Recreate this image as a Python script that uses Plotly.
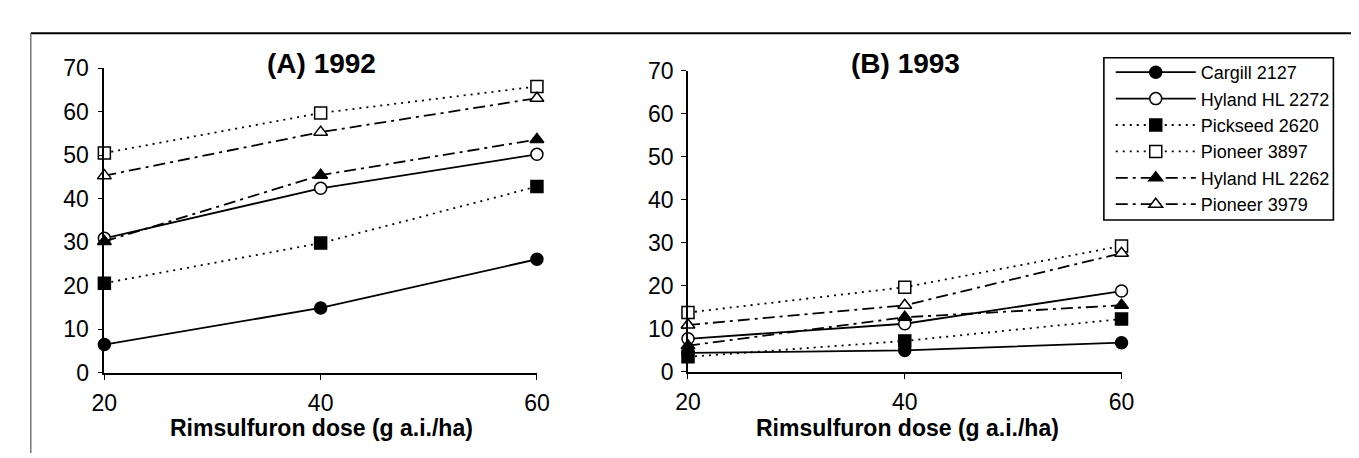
import plotly.graph_objects as go

doses = [20, 40, 60]
names = ["Cargill 2127", "Hyland HL 2272", "Pickseed 2620", "Pioneer 3897", "Hyland HL 2262", "Pioneer 3979"]

# Panel A (1992)
a_cargill = [6.5, 14.9, 26.1]
a_hl2272 = [30.9, 42.4, 50.2]
a_pickseed = [20.6, 29.8, 42.8]
a_p3897 = [50.5, 59.7, 65.8]
a_hl2262 = [30.2, 45.4, 53.6]
a_p3979 = [45.3, 55.3, 63.1]

# Panel B (1993)
b_cargill = [4.4, 5.0, 6.8]
b_hl2272 = [7.7, 11.2, 18.8]
b_pickseed = [3.5, 7.2, 12.3]
b_p3897 = [13.8, 19.7, 29.3]
b_hl2262 = [6.1, 12.7, 15.5]
b_p3979 = [10.9, 15.5, 27.6]

styles = [
    dict(dash="solid", symbol="circle", fill="black"),
    dict(dash="solid", symbol="circle", fill="white"),
    dict(dash="2px,5px", symbol="square", fill="black"),
    dict(dash="2px,5px", symbol="square", fill="white"),
    dict(dash="12px,5px,3px,5px", symbol="triangle-up", fill="black"),
    dict(dash="12px,5px,3px,5px", symbol="triangle-up", fill="white"),
]

FONT = "Arial, Liberation Sans, sans-serif"

fig = go.Figure()
panels = [
    ("x", "y", [a_cargill, a_hl2272, a_pickseed, a_p3897, a_hl2262, a_p3979], False),
    ("x2", "y2", [b_cargill, b_hl2272, b_pickseed, b_p3897, b_hl2262, b_p3979], True),
]
for xa, ya, series, show in panels:
    for name, vals, st in zip(names, series, styles):
        fig.add_trace(go.Scatter(
            x=doses, y=vals, name=name, xaxis=xa, yaxis=ya, showlegend=show,
            mode="lines+markers", cliponaxis=False,
            line=dict(color="black", width=1.8, dash=st["dash"]),
            marker=dict(symbol=st["symbol"], size=12, color=st["fill"],
                        line=dict(color="black", width=1.5)),
        ))

font_tick = dict(family=FONT, size=23, color="black")
ax_common = dict(showgrid=False, zeroline=False, showline=True, linecolor="black", linewidth=1.7,
                 ticks="outside", ticklen=5, tickwidth=1.4, tickcolor="black", tickfont=font_tick)
inner = dict(ticks="inside", ticklen=5, tickwidth=1.4, tickcolor="black", showticklabels=False,
             showgrid=False, zeroline=False, showline=False)

xd1 = [85 / 1359, 526 / 1359]
xd2 = [680 / 1359, 1122 / 1359]
yd1 = [(458 - 373) / 458, (458 - 50) / 458]
yd2 = [(458 - 372) / 458, (458 - 53) / 458]

fig.update_layout(
    width=1359, height=458, margin=dict(l=0, r=0, t=0, b=0),
    paper_bgcolor="white", plot_bgcolor="white",
    font=font_tick,
    xaxis=dict(domain=xd1, range=[20, 60], tickvals=doses, anchor="y", ticklabelstandoff=4, **ax_common),
    yaxis=dict(domain=yd1, range=[0, 70], dtick=10, anchor="x", ticklabelstandoff=4, **ax_common),
    xaxis2=dict(domain=xd2, range=[20, 60], tickvals=doses, anchor="y2", ticklabelstandoff=4, **ax_common),
    yaxis2=dict(domain=yd2, range=[0, 70], dtick=10, anchor="x2", ticklabelstandoff=3, **ax_common),
    # overlay axes so tick marks cross the axis lines
    xaxis3=dict(domain=xd1, range=[20, 60], tickvals=doses, anchor="y", overlaying="x", **inner),
    yaxis3=dict(domain=yd1, range=[0, 70], dtick=10, anchor="x", overlaying="y", **inner),
    xaxis4=dict(domain=xd2, range=[20, 60], tickvals=doses, anchor="y2", overlaying="x2", **inner),
    yaxis4=dict(domain=yd2, range=[0, 70], dtick=10, anchor="x2", overlaying="y2", **inner),
    legend=dict(
        x=1111 / 1359, y=(458 - 35) / 458, xanchor="left", yanchor="top",
        borderwidth=0, bgcolor="rgba(0,0,0,0)",
        font=dict(family=FONT, size=18, color="black"),
        itemwidth=80, tracegroupgap=0,
    ),
    shapes=[
        dict(type="line", xref="paper", yref="paper", x0=10 / 1359, x1=1, y0=(458 - 13) / 458, y1=(458 - 13) / 458,
             line=dict(color="black", width=2.2)),
        dict(type="line", xref="paper", yref="paper", x0=10 / 1359, x1=10 / 1359, y0=0, y1=(458 - 13) / 458,
             line=dict(color="#555555", width=1.2)),
        # legend frame
        dict(type="rect", xref="paper", yref="paper", x0=1104 / 1359, x1=1338 / 1359,
             y0=(458 - 211) / 458, y1=(458 - 39) / 458, line=dict(color="black", width=1.6),
             fillcolor="white", layer="below"),
    ],
    annotations=[
        dict(text="<b>(A) 1992</b>", x=306 / 1359, y=(458 - 45) / 458, xref="paper", yref="paper",
             showarrow=False, xanchor="center", yanchor="middle",
             font=dict(family=FONT, size=28, color="black")),
        dict(text="<b>(B) 1993</b>", x=902 / 1359, y=(458 - 45) / 458, xref="paper", yref="paper",
             showarrow=False, xanchor="center", yanchor="middle",
             font=dict(family=FONT, size=28, color="black")),
        dict(text="<b>Rimsulfuron dose (g a.i./ha)</b>", x=306 / 1359, y=(458 - 431) / 458, xref="paper",
             yref="paper", showarrow=False, xanchor="center", yanchor="middle",
             font=dict(family=FONT, size=23, color="black")),
        dict(text="<b>Rimsulfuron dose (g a.i./ha)</b>", x=904 / 1359, y=(458 - 431) / 458, xref="paper",
             yref="paper", showarrow=False, xanchor="center", yanchor="middle",
             font=dict(family=FONT, size=23, color="black")),
    ],
)

fig.write_html("out.html")
